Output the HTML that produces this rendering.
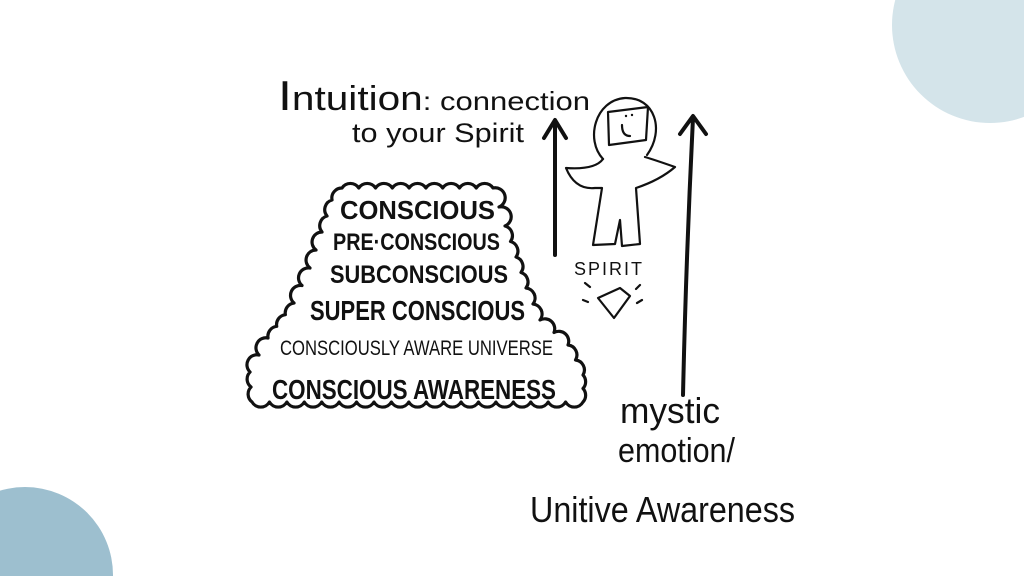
<!DOCTYPE html>
<html><head><meta charset="utf-8"><style>
html,body{margin:0;padding:0;background:#fff;overflow:hidden;width:1024px;height:576px;}
svg{display:block;}
text{font-family:"Liberation Sans Narrow","Liberation Sans",sans-serif;fill:#111;}
</style></head><body>
<svg width="1024" height="576" viewBox="0 0 1024 576" xmlns="http://www.w3.org/2000/svg">
<rect width="1024" height="576" fill="#fff"/>
<circle cx="990" cy="25" r="98" fill="#d4e4ea"/>
<circle cx="25" cy="575" r="88" fill="#9dbfcf"/>
<path fill="#fff" stroke="#111" stroke-width="3.2" stroke-linejoin="round" d="M342 188
a10 10 0 0 1 16.78 0 a10 10 0 0 1 16.78 0 a10 10 0 0 1 16.78 0 a10 10 0 0 1 16.78 0 a10 10 0 0 1 16.78 0 a10 10 0 0 1 16.78 0 a10 10 0 0 1 16.78 0 a10 10 0 0 1 16.78 0 a10 10 0 0 1 16.78 0
a10 10 0 0 1 6 19 a10 10 0 0 1 6 19
a10 10 0 0 1 5.5 15.5 a10 10 0 0 1 5.5 15.5
a10 10 0 0 1 5 15.5 a10 10 0 0 1 5 15.5
a10 10 0 0 1 7 16 a10 10 0 0 1 7 16
a10 10 0 0 1 14 12.5 a10 10 0 0 1 14 12.5
a10 10 0 0 1 7.5 15 a10 10 0 0 1 7.5 15
a10 10 0 0 1 0 13.5 a10 10 0 0 1 0 13.5
a10 10 0 0 1 -17.42 0 a10 10 0 0 1 -17.42 0 a10 10 0 0 1 -17.42 0 a10 10 0 0 1 -17.42 0 a10 10 0 0 1 -17.42 0 a10 10 0 0 1 -17.42 0 a10 10 0 0 1 -17.42 0 a10 10 0 0 1 -17.42 0 a10 10 0 0 1 -17.42 0 a10 10 0 0 1 -17.42 0 a10 10 0 0 1 -17.42 0 a10 10 0 0 1 -17.42 0 a10 10 0 0 1 -17.42 0 a10 10 0 0 1 -17.42 0 a10 10 0 0 1 -17.42 0 a10 10 0 0 1 -17.42 0 a10 10 0 0 1 -17.42 0 a10 10 0 0 1 -17.42 0 a10 10 0 0 1 -17.42 0
a10 10 0 0 1 -1 -15 a10 10 0 0 1 -1 -15
a10 10 0 0 1 9 -17 a10 10 0 0 1 9 -17
a10 10 0 0 1 8.667 -11.667 a10 10 0 0 1 8.667 -11.667 a10 10 0 0 1 8.667 -11.667
a10 10 0 0 1 8 -17.5 a10 10 0 0 1 8 -17.5
a10 10 0 0 1 6 -18 a10 10 0 0 1 6 -18
a10 10 0 0 1 5 -16 a10 10 0 0 1 5 -16
a10 10 0 0 1 10 -12 Z"/>
<g font-weight="bold" lengthAdjust="spacingAndGlyphs">
<text x="340" y="219" font-size="26" textLength="155" lengthAdjust="spacingAndGlyphs">CONSCIOUS</text>
<text x="333" y="250" font-size="24" textLength="167" lengthAdjust="spacingAndGlyphs">PRE·CONSCIOUS</text>
<text x="330" y="283" font-size="25" textLength="178" lengthAdjust="spacingAndGlyphs">SUBCONSCIOUS</text>
<text x="310" y="320" font-size="28" textLength="215" lengthAdjust="spacingAndGlyphs">SUPER CONSCIOUS</text>
<text x="272" y="399" font-size="28" textLength="284" lengthAdjust="spacingAndGlyphs">CONSCIOUS AWARENESS</text>
</g>
<text x="280" y="355" font-size="21" textLength="273" lengthAdjust="spacingAndGlyphs">CONSCIOUSLY AWARE UNIVERSE</text>
<text x="278" y="110" font-size="42" textLength="312" lengthAdjust="spacingAndGlyphs">I<tspan font-size="34">ntuition</tspan><tspan font-size="26">: connection</tspan></text>
<text x="352" y="142" font-size="27" textLength="172" lengthAdjust="spacingAndGlyphs">to your Spirit</text>
<text x="620" y="423" font-size="36" textLength="100" lengthAdjust="spacingAndGlyphs">mystic</text>
<text x="618" y="462" font-size="34" textLength="117" lengthAdjust="spacingAndGlyphs">emotion/</text>
<text x="530" y="522" font-size="36" textLength="265" lengthAdjust="spacingAndGlyphs">Unitive Awareness</text>
<g stroke="#111" stroke-width="4" fill="none" stroke-linecap="round" stroke-linejoin="round">
<path d="M555 255 L555 122 M544 138 L555 120 L566 138"/>
<path d="M683 395 Q686 260 693 118 M680 134 L693 116 L706 134"/>
</g>
<g stroke="#111" stroke-width="2.2" fill="none" stroke-linejoin="round" stroke-linecap="round">
<path d="M603 159 C585 140 595 100 625 98 C655 97 665 130 647 155"/>
<path d="M608 112 L648 107 L646 140 L609 145 Z"/>
<path d="M622 125 Q622 136 630 136"/>
<path d="M603 159 Q595 170 566 168 Q575 190 595 188 L602 188 L593 245 L615 244 L620 220 L622 246 L640 244 L636 188 Q660 180 675 167 Q655 160 645 157"/>
<text x="574" y="275" font-size="18" stroke="none" letter-spacing="2">SPIRIT</text>
<path d="M598 298 L620 288 L630 296 L614 318 Z"/>
<path d="M585 283 L590 287 M583 300 L588 302 M640 285 L636 289 M642 300 L637 303"/>
</g>
<circle cx="626" cy="116" r="1.2" fill="#111"/><circle cx="632" cy="115" r="1.2" fill="#111"/>
</svg>
</body></html>
